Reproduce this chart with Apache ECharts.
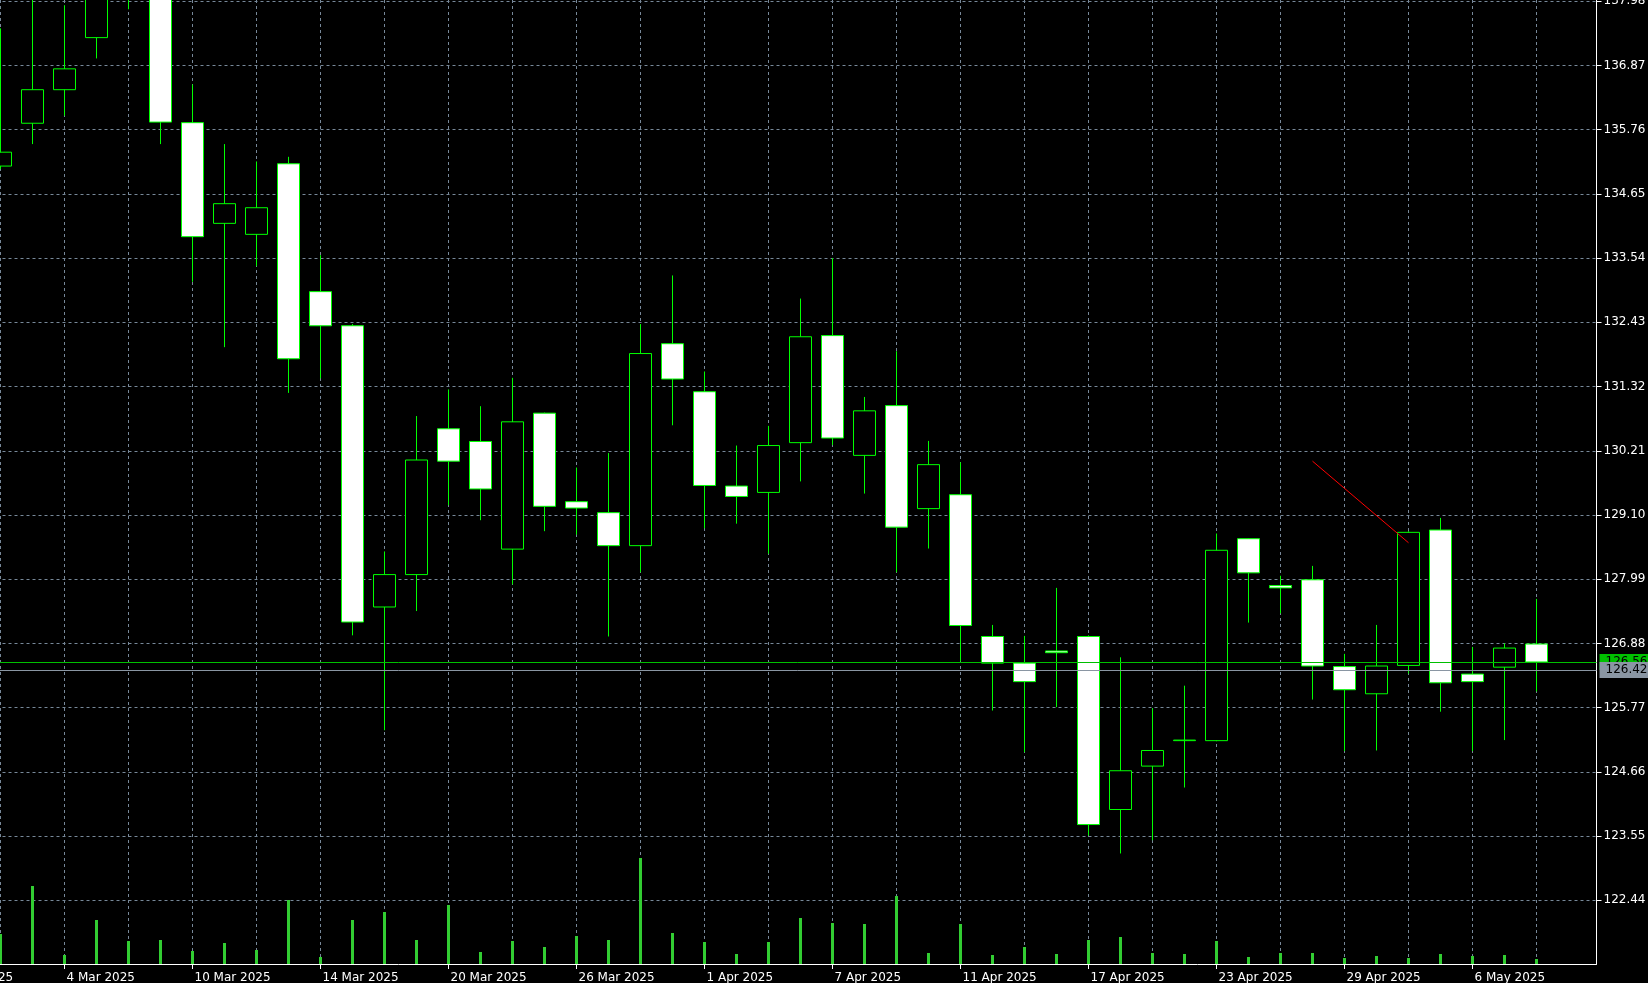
<!DOCTYPE html>
<html>
<head>
<meta charset="utf-8">
<title>Daily candles</title>
<script src="https://cdn.jsdelivr.net/npm/echarts@6/dist/echarts.min.js"></script>
<style>
  html, body { margin: 0; padding: 0; background: #000; overflow: hidden; }
  #chart { width: 1648px; height: 983px; }
</style>
</head>
<body>
<div id="chart"></div>
<script>
// trading days, the first two only carry the cut-off axis label
const dates = [
  '26 Feb 2025', '27 Feb 2025', '28 Feb 2025', '3 Mar 2025', '4 Mar 2025', '5 Mar 2025',
  '6 Mar 2025', '7 Mar 2025', '10 Mar 2025', '11 Mar 2025', '12 Mar 2025', '13 Mar 2025',
  '14 Mar 2025', '17 Mar 2025', '18 Mar 2025', '19 Mar 2025', '20 Mar 2025', '21 Mar 2025',
  '24 Mar 2025', '25 Mar 2025', '26 Mar 2025', '27 Mar 2025', '28 Mar 2025', '31 Mar 2025',
  '1 Apr 2025', '2 Apr 2025', '3 Apr 2025', '4 Apr 2025', '7 Apr 2025', '8 Apr 2025',
  '9 Apr 2025', '10 Apr 2025', '11 Apr 2025', '14 Apr 2025', '15 Apr 2025', '16 Apr 2025',
  '17 Apr 2025', '18 Apr 2025', '21 Apr 2025', '22 Apr 2025', '23 Apr 2025', '24 Apr 2025',
  '25 Apr 2025', '28 Apr 2025', '29 Apr 2025', '30 Apr 2025', '1 May 2025', '2 May 2025',
  '6 May 2025', '7 May 2025', '8 May 2025'
]
const firstCandle = 2

const opens = [
  135.13, 135.87, 136.45, 137.35, 138.45, 138.90, 135.88, 134.14, 133.95, 135.17,
  132.96, 132.37, 127.51, 128.07, 130.59, 130.37, 128.51, 130.86, 129.33, 129.14,
  128.57, 132.06, 131.23, 129.60, 129.49, 130.35, 132.20, 130.13, 130.99, 129.21,
  129.45, 127.00, 126.54, 126.75, 127.00, 124.01, 124.76, 125.20, 125.20, 128.69,
  127.88, 127.98, 126.48, 126.01, 126.50, 128.84, 126.35, 126.47, 126.87
]
const closes = [
  135.37, 136.45, 136.81, 138.40, 138.90, 135.89, 133.91, 134.48, 134.41, 131.80,
  132.37, 127.25, 128.07, 130.05, 130.03, 129.55, 130.71, 129.25, 129.22, 128.57,
  131.89, 131.45, 129.61, 129.42, 130.30, 132.18, 130.43, 130.90, 128.89, 129.97,
  127.19, 126.54, 126.22, 126.72, 123.75, 124.68, 125.03, 125.21, 128.49, 128.10,
  127.84, 126.49, 126.08, 126.49, 128.80, 126.20, 126.22, 126.80, 126.56
]
const lows = [
  135.08, 135.51, 136.00, 136.99, 137.84, 135.51, 133.13, 132.00, 133.40, 131.21,
  131.46, 127.02, 125.38, 127.44, 129.27, 129.01, 127.90, 128.82, 128.76, 127.00,
  128.11, 130.65, 128.87, 128.95, 128.43, 129.68, 130.31, 129.47, 128.11, 128.52,
  126.57, 125.72, 125.00, 125.78, 123.56, 123.25, 123.48, 124.39, 125.19, 127.24,
  127.40, 125.91, 125.02, 125.03, 126.36, 125.70, 125.02, 125.21, 126.05
]
const highs = [
  137.51, 138.30, 137.91, 138.70, 139.20, 139.30, 136.54, 135.51, 135.21, 135.29,
  133.59, 132.40, 128.47, 130.81, 131.27, 130.98, 131.47, 130.87, 129.92, 130.17,
  132.40, 133.24, 131.58, 130.30, 130.64, 132.84, 133.54, 131.14, 131.93, 130.38,
  130.01, 127.20, 127.01, 127.84, 127.02, 126.64, 125.76, 126.15, 128.78, 128.70,
  128.05, 128.22, 126.70, 127.20, 128.82, 129.05, 126.82, 126.88, 127.65
]
// tick volume, thousands
const volumes = [
  30, 78, 9, 44, 23, 24, 13, 21, 14, 64, 7, 44, 52, 24, 59, 12, 23, 17, 28, 24,
  106, 31, 22, 10, 22, 46, 41, 40, 68, 11, 40, 9, 17, 10, 24, 27, 11, 10, 23, 7,
  11, 11, 6, 8, 6, 10, 8, 9, 5
]

const priceTicks = [
  122.44, 123.55, 124.66, 125.77, 126.88, 127.99, 129.10, 130.21,
  131.32, 132.43, 133.54, 134.65, 135.76, 136.87, 137.98
]
const dateTicks = [0, 4, 8, 12, 16, 20, 24, 28, 32, 36, 40, 44, 48]

const bidPrice = 126.56
const levelPrice = 126.42
const trendLine = [[43, 130.03], [46, 128.62]]

const candleData = opens.map((o, i) => [i + firstCandle, o, closes[i], lows[i], highs[i]])
const volumeData = volumes.map((v, i) => [i + firstCandle, v])

const GRID = '#778899'
const FONT = 'DejaVu Sans'

const chart = echarts.init(document.getElementById('chart'))

const option = {
  backgroundColor: '#000000',
  animation: false,
  // half pixel offsets keep the 1px wicks and grid lines on whole pixels
  grid: { left: -63.5, right: 51.5, top: 0, bottom: 19, outerBoundsMode: 'none', containLabel: false },
  xAxis: [
    {
      type: 'value', min: 0, max: 51.875, interval: 2,
      axisLine: { show: true, onZero: false, lineStyle: { color: '#ffffff', width: 1 } },
      axisTick: { show: false },
      axisLabel: { show: false },
      splitLine: { show: true, lineStyle: { color: GRID, type: [3, 3], width: 1 } }
    },
    {
      type: 'value', min: 0, max: 51.875, position: 'bottom',
      axisLine: { show: false, onZero: false },
      axisTick: { show: true, customValues: dateTicks, length: 5, lineStyle: { color: '#ffffff' } },
      axisLabel: {
        customValues: dateTicks,
        formatter: v => dates[v],
        color: '#ffffff', fontFamily: FONT, fontSize: 12,
        align: 'left', margin: 8, padding: [0, 0, 0, 2]
      },
      splitLine: { show: false }
    }
  ],
  yAxis: [
    {
      type: 'value', position: 'right', min: 121.34, max: 138.0,
      axisLine: { show: true, onZero: false, lineStyle: { color: '#ffffff', width: 1 } },
      axisTick: { show: true, customValues: priceTicks, length: 5, lineStyle: { color: '#ffffff' } },
      axisLabel: {
        customValues: priceTicks,
        formatter: v => v.toFixed(2),
        color: '#ffffff', fontFamily: FONT, fontSize: 12, margin: 7
      },
      splitLine: { show: true, lineStyle: { color: GRID, type: [3, 3], width: 1 } }
    },
    { type: 'value', min: 0, max: 964, show: false }
  ],
  series: [
    {
      name: 'Volume',
      type: 'bar',
      xAxisIndex: 0,
      yAxisIndex: 1,
      data: volumeData,
      barWidth: 3,
      itemStyle: { color: '#32cd32' },
      z: 1
    },
    {
      name: 'Price',
      type: 'candlestick',
      xAxisIndex: 0,
      yAxisIndex: 0,
      data: candleData,
      encode: { x: 0, y: [1, 2, 3, 4] },
      barWidth: 22,
      clip: false,
      z: 3,
      itemStyle: {
        color: '#000000',
        color0: '#ffffff',
        borderColor: '#00ff00',
        borderColor0: '#00ff00',
        borderColorDoji: '#00ff00',
        borderWidth: 1
      },
      markLine: {
        symbol: 'none',
        silent: true,
        animation: false,
        data: [
          {
            yAxis: bidPrice,
            lineStyle: { color: '#00c000', type: 'solid', width: 1 },
            label: {
              show: true, position: 'end', distance: 3,
              formatter: bidPrice.toFixed(2),
              color: '#000000', backgroundColor: '#00c000',
              fontFamily: FONT, fontSize: 12, padding: [2, 6, 2, 6]
            }
          },
          {
            yAxis: levelPrice,
            lineStyle: { color: '#8a96a3', type: 'solid', width: 1 },
            label: {
              show: true, position: 'end', distance: 3,
              formatter: levelPrice.toFixed(2),
              color: '#000000', backgroundColor: '#8a96a3',
              fontFamily: FONT, fontSize: 12, padding: [2, 6, 2, 6]
            }
          }
        ]
      }
    },
    {
      name: 'Trend',
      type: 'line',
      xAxisIndex: 0,
      yAxisIndex: 0,
      data: trendLine,
      symbol: 'none',
      lineStyle: { color: '#ff0000', width: 1 },
      z: 4
    }
  ]
}

chart.setOption(option)
</script>
</body>
</html>
